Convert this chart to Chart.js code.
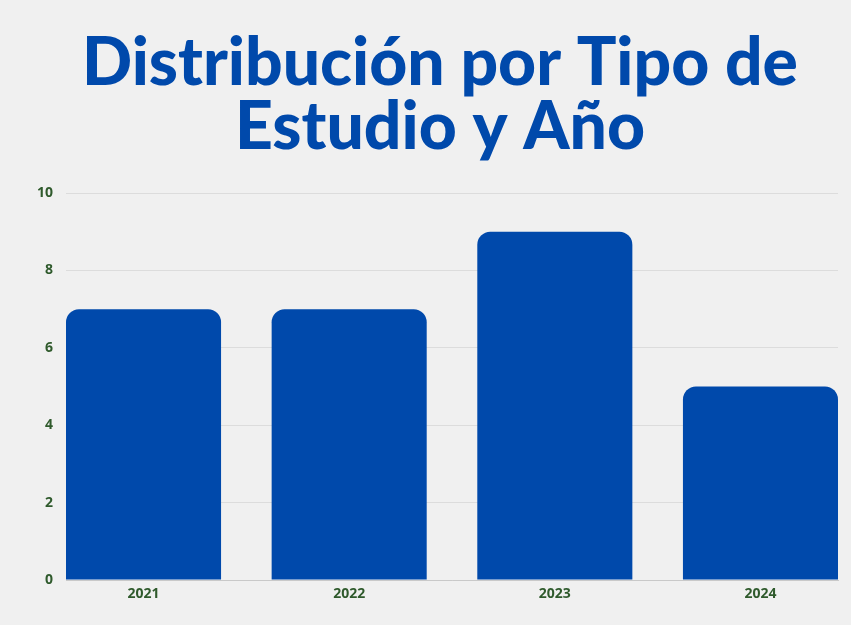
<!DOCTYPE html>
<html>
<head>
<meta charset="utf-8">
<script src="https://cdn.jsdelivr.net/npm/chart.js@4"></script>
<style>
  html, body { margin: 0; padding: 0; background: #f0f0f0; overflow: hidden; }
  #wrap { width: 851px; height: 625px; }
</style>
</head>
<body>
<div id="wrap"><canvas id="chart_bars"></canvas></div>
<script>
// datos del grafico
const years = ["2021", "2022", "2023", "2024"];
const values = [7, 7, 9, 5];
const yTicks = [0, 2, 4, 6, 8, 10];

const tickColor = "#2f5a2c";
const barColor = "#0049ab";

// mueve el titulo un poco a la derecha, como en la imagen
const titleShift = {
	id: "titleShift",
	afterLayout(chart) {
		chart.titleBlock.left += 32;
	},
};

const ctx = document.getElementById("chart_bars").getContext("2d");

let chart_bars = new Chart(ctx, {
	type: "bar",
	data: {
		datasets: [
			{
				label: "Estudios",
				data: years.map((y, i) => ({ x: i, y: values[i] })),
				backgroundColor: barColor,
				borderRadius: 13,
				borderSkipped: "start",
				barPercentage: 0.754,
				categoryPercentage: 1,
			},
		],
	},
	plugins: [titleShift],
	options: {
		responsive: true,
		maintainAspectRatio: false,
		animation: false,
		layout: { padding: { left: 10, right: 13, top: 32, bottom: 0 } },
		plugins: {
			legend: { display: false },
			tooltip: { enabled: false },
			title: {
				display: true,
				text: ["Distribución por Tipo de", "Estudio y Año"],
				color: "#0049ab",
				font: { family: "Lato", size: 66, weight: "900", lineHeight: 0.97 },
				padding: { top: 0, bottom: 33 },
			},
		},
		scales: {
			x: {
				type: "linear",
				offset: false,
				min: -0.377,
				max: 3.377,
				afterBuildTicks: (scale) => {
					scale.ticks = years.map((y, i) => ({ value: i }));
				},
				afterFit: (scale) => { scale.height = 45; },
				grid: { display: false, drawTicks: false },
				border: { display: true, color: "#c9c9c9", width: 1 },
				ticks: {
					padding: 6,
					color: tickColor,
					font: { family: "Open Sans", size: 14, weight: "bold" },
					callback: (v) => years[v],
				},
			},
			y: {
				min: 0,
				max: 10,
				afterBuildTicks: (scale) => {
					scale.ticks = yTicks.map((v) => ({ value: v }));
				},
				afterFit: (scale) => { scale.width = 56; },
				grid: { color: "#dcdcdc", drawTicks: false },
				border: { display: false },
				ticks: {
					padding: 13,
					color: tickColor,
					font: { family: "Open Sans", size: 14, weight: "bold" },
				},
			},
		},
	},
});
</script>
</body>
</html>
